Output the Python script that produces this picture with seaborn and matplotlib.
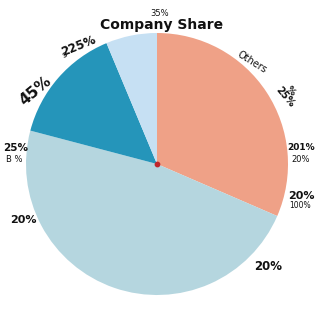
import matplotlib
matplotlib.use("Agg")
import matplotlib.pyplot as plt
import seaborn as sns

sns.set_theme(style="white")
plt.rcParams['font.family'] = ['DejaVu Sans']

# Data (clockwise from top)
categories = ["Others", "Company B", "Company A", "Company C"]
shares = [31.5, 47.6, 14.6, 6.3]
colors = ["#EFA187", "#B5D6DF", "#2595BA", "#C6E0F3"]

title = "Company Share"
# annotation texts: (text, x_px, y_px, size, weight, rotation)
notes = [
    ("35%", 160, 14, 6, "normal", 0),
    ("225%", 79, 46, 8.5, "bold", 22),
    ("s", 65, 55, 6, "normal", 22),
    ("Others", 252, 62, 7, "normal", -32),
    ("%", 291, 91, 6.5, "bold", -50),
    ("25%", 285, 97, 7, "bold", -50),
    ("45%", 35, 91, 11, "bold", 40),
    ("25%", 16, 148, 7.5, "bold", 0),
    ("B %", 14, 160, 6, "normal", 0),
    ("20%", 23, 220, 8, "bold", 0),
    ("20%", 268, 266, 8.5, "bold", 0),
    ("201%", 301, 148, 6.5, "bold", 0),
    ("20%", 301, 160, 6, "normal", 0),
    ("20%", 301, 196, 8, "bold", 0),
    ("100%", 300, 206, 5.5, "normal", 0),
]

W = 320
cx, cy, R = 157, 164, 131

fig = plt.figure(figsize=(3.2, 3.2), dpi=100)
ax = fig.add_axes([0, 0, 1, 1])
ax.pie(shares, colors=colors, startangle=90, counterclock=False,
       radius=1, center=(0, 0), wedgeprops=dict(linewidth=0))
ax.set_xlim(-cx / R, (W - cx) / R)
ax.set_ylim(-(W - cy) / R, cy / R)
ax.set_aspect("equal")
ax.axis("off")
ax.scatter([0], [0], s=10, color="#C0262B", zorder=5)

fig.text(162 / W, 1 - 25 / W, title, ha="center", va="center",
         fontsize=10, fontweight="bold", color="#111111")
for t, x, y, s, w, r in notes:
    fig.text(x / W, 1 - y / W, t, ha="center", va="center", fontsize=s,
             fontweight=w, rotation=r, color="#111111")

fig.savefig("out.png", dpi=100)
